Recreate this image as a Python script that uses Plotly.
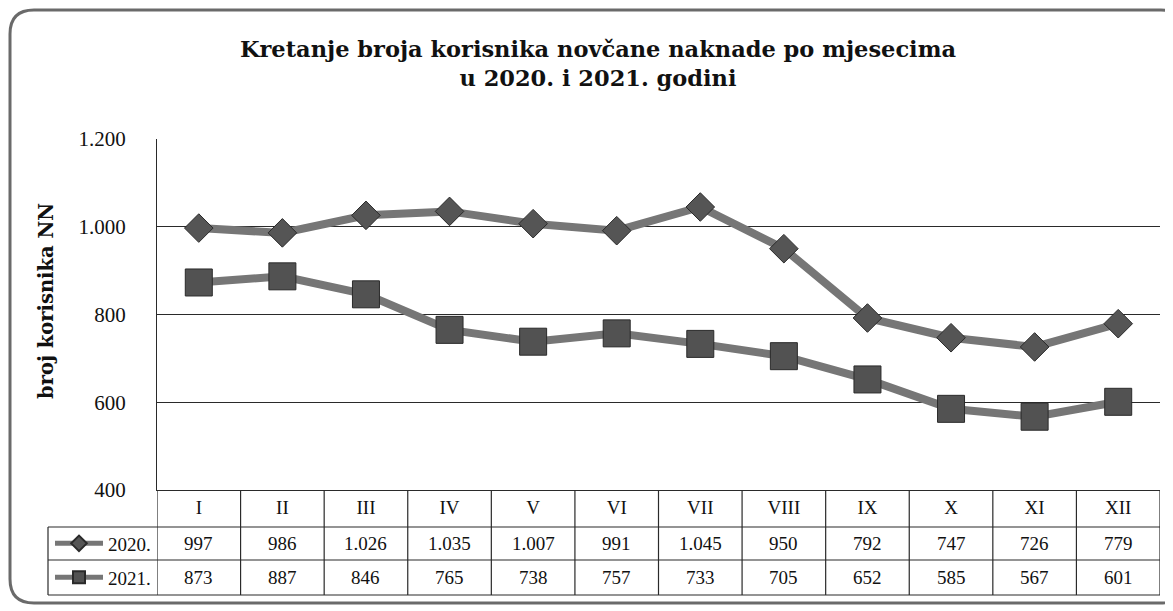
import plotly.graph_objects as go

# page body adds an 8px offset; the figure is sized so the page matches 1173x611
OFF = 8
W, H = 1173 - OFF, 611 - OFF

months = ["I", "II", "III", "IV", "V", "VI", "VII", "VIII", "IX", "X", "XI", "XII"]
y2020 = [997, 986, 1026, 1035, 1007, 991, 1045, 950, 792, 747, 726, 779]
y2021 = [873, 887, 846, 765, 738, 757, 733, 705, 652, 585, 567, 601]
series_names = ["2020.", "2021."]
yticks = [400, 600, 800, 1000, 1200]

FONT = "Liberation Serif"
TFONT = "DejaVu Serif"


def px(x):
    return (x - OFF) / W


def py(y):
    return 1 - (y - OFF) / H


def fmt(v):
    return f"{v:,}".replace(",", ".")


# layout geometry (screen pixels)
PL, PR, PT, PB = 157, 1160, 139, 490
ROWS = [490, 527, 560, 595]
LEG_L = 48
GRID = "#2a2a2a"

fig = go.Figure()

fig.add_trace(go.Scatter(
    x=months, y=y2020, name=series_names[0], mode="lines+markers",
    line=dict(color="#767676", width=8),
    marker=dict(symbol="diamond", size=22, color="#555555",
                line=dict(color="#2a2a2a", width=1)),
    legend="legend", showlegend=True,
))
fig.add_trace(go.Scatter(
    x=months, y=y2021, name=series_names[1], mode="lines+markers",
    line=dict(color="#767676", width=8),
    marker=dict(symbol="square", size=27, color="#525252",
                line=dict(color="#2a2a2a", width=1)),
    legend="legend2", showlegend=True,
))

shapes = []
# outer rounded border
x0, y0, x1, y1, r = 10, 10, 1185, 603, 24
path = (f"M {px(x0)} {py(y0 + r)} "
        f"Q {px(x0)} {py(y0)} {px(x0 + r)} {py(y0)} "
        f"L {px(x1 - r)} {py(y0)} "
        f"Q {px(x1)} {py(y0)} {px(x1)} {py(y0 + r)} "
        f"L {px(x1)} {py(y1 - r)} "
        f"Q {px(x1)} {py(y1)} {px(x1 - r)} {py(y1)} "
        f"L {px(x0 + r)} {py(y1)} "
        f"Q {px(x0)} {py(y1)} {px(x0)} {py(y1 - r)} Z")
shapes.append(dict(type="path", path=path, xref="paper", yref="paper",
                   line=dict(color="#6a6a6a", width=3)))

# table grid
for i in range(len(months) + 1):
    shapes.append(dict(type="line", xref="x", yref="paper",
                       x0=i - 0.5, x1=i - 0.5, y0=py(ROWS[-1]), y1=py(ROWS[0]),
                       line=dict(color=GRID, width=1.2)))
for yy in ROWS[1:]:
    shapes.append(dict(type="line", xref="paper", yref="paper",
                       x0=px(LEG_L), x1=px(PR), y0=py(yy), y1=py(yy),
                       line=dict(color=GRID, width=1.2)))
shapes.append(dict(type="line", xref="paper", yref="paper",
                   x0=px(LEG_L), x1=px(LEG_L), y0=py(ROWS[1]), y1=py(ROWS[-1]),
                   line=dict(color=GRID, width=1.2)))

annotations = []
for row, vals in enumerate([y2020, y2021]):
    yc = (ROWS[row + 1] + ROWS[row + 2]) / 2
    for m, v in zip(months, vals):
        annotations.append(dict(x=m, y=py(yc), xref="x", yref="paper",
                                xanchor="center", yanchor="middle",
                                text=fmt(v), showarrow=False,
                                font=dict(family=FONT, size=19, color="#111")))

annotations.append(dict(x=px(46), y=py(301), xref="paper", yref="paper",
                        xanchor="center", yanchor="middle",
                        text="<b>broj korisnika NN</b>", textangle=-90,
                        showarrow=False,
                        font=dict(family=TFONT, size=19.5, color="#111")))

fig.update_layout(
    width=W, height=H,
    margin=dict(l=0, r=0, t=0, b=0, autoexpand=False),
    paper_bgcolor="white", plot_bgcolor="white",
    separators=",.",
    showlegend=True,
    title=dict(text="<b>Kretanje broja korisnika novčane naknade po mjesecima<br>u 2020. i 2021. godini</b>",
               x=px(598), xanchor="center", y=py(57), yanchor="middle",
               font=dict(family=TFONT, size=22.5, color="#111")),
    xaxis=dict(domain=[px(PL), px(PR)], range=[-0.5, 11.5], type="category",
               showgrid=False, zeroline=False, showline=True,
               linecolor=GRID, linewidth=1.2,
               ticks="", ticklabelstandoff=0,
               tickfont=dict(family=FONT, size=19, color="#111")),
    yaxis=dict(domain=[py(PB), py(PT)], range=[400, 1200],
               tickvals=yticks, tickformat=",d",
               showgrid=True, gridcolor=GRID, gridwidth=1.2,
               zeroline=False, showline=True, linecolor=GRID, linewidth=1.2,
               ticks="", ticklabelstandoff=26,
               tickfont=dict(family=FONT, size=21, color="#111")),
    legend=dict(x=px(50), y=py(543.5), xanchor="left", yanchor="middle",
                bgcolor="rgba(0,0,0,0)", borderwidth=0, itemwidth=48,
                itemsizing="constant",
                font=dict(family=FONT, size=19, color="#111")),
    legend2=dict(x=px(50), y=py(577.5), xanchor="left", yanchor="middle",
                 bgcolor="rgba(0,0,0,0)", borderwidth=0, itemwidth=48,
                 itemsizing="constant",
                 font=dict(family=FONT, size=19, color="#111")),
    shapes=shapes,
    annotations=annotations,
)

fig.write_html("out.html")
